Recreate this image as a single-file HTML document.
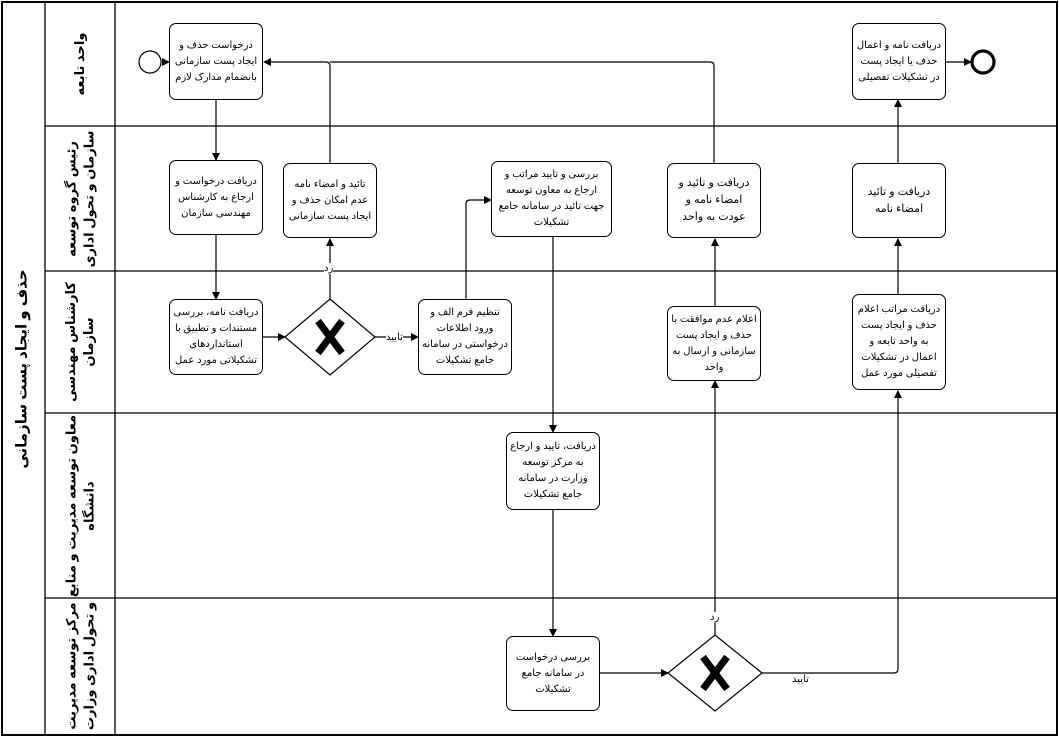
<!DOCTYPE html>
<html><head><meta charset="utf-8"><style>
body{margin:0;background:#fff;}
#c{position:relative;width:1059px;height:737px;overflow:hidden;font-family:"Liberation Sans","DejaVu Sans",sans-serif;}
.b{position:absolute;border:1.3px solid #000;border-radius:7px;background:#fff;display:flex;align-items:center;justify-content:center;text-align:center;direction:rtl;font-size:10px;line-height:16px;box-sizing:border-box;padding:2px 3px;color:#000;}
.l{position:absolute;direction:rtl;text-align:center;font-weight:bold;font-size:13px;line-height:18px;transform:rotate(-90deg);transform-origin:center;display:flex;align-items:center;justify-content:center;}
.t{position:absolute;font-size:10px;direction:rtl;background:#fff;line-height:11px;}
</style></head><body><div id="c">
<svg width="1059" height="737" style="position:absolute;left:0;top:0">
<defs><marker id="a" markerWidth="8" markerHeight="8" refX="7" refY="4" orient="auto" markerUnits="userSpaceOnUse"><path d="M0,0 L8,4 L0,8 z" fill="#000"/></marker></defs>
<g fill="none" stroke="#000">
<rect x="2" y="2" width="1055" height="733" stroke-width="2"/>
<line x1="45" y1="2" x2="45" y2="735" stroke-width="1.3"/>
<line x1="115" y1="2" x2="115" y2="735" stroke-width="1.3"/>
<line x1="45" y1="126" x2="1057" y2="126" stroke-width="1.3"/>
<line x1="45" y1="271" x2="1057" y2="271" stroke-width="1.3"/>
<line x1="45" y1="413" x2="1057" y2="413" stroke-width="1.3"/>
<line x1="45" y1="598" x2="1057" y2="598" stroke-width="1.3"/>
<circle cx="150" cy="62" r="11" stroke-width="1.2"/>
<circle cx="983" cy="62" r="11" stroke-width="3.2"/>
<path d="M330,299 L375,337 L330,375 L285,337 Z" fill="#fff" stroke-width="1.2"/>
<path d="M715,635 L762,673 L715,711 L668,673 Z" fill="#fff" stroke-width="1.2"/>
<path d="M714,163 L714,66 Q714,62 710,62 L330,62" stroke-width="1.2"/>
<g stroke-width="1.2" marker-end="url(#a)">
<path d="M162,62 L169,62"/>
<path d="M216,100 L216,160"/>
<path d="M216,234 L216,299"/>
<path d="M263,337 L285,337"/>
<path d="M375,337 L418,337"/>
<path d="M330,299 L330,239"/>
<path d="M330,163 L330,66 Q330,62 326,62 L264,62"/>
<path d="M466,299 L466,204 Q466,200 470,200 L491,200"/>
<path d="M553,236 L553,432"/>
<path d="M553,510 L553,636"/>
<path d="M600,673 L668,673"/>
<path d="M715,635 L715,381"/>
<path d="M715,306 L715,239"/>
<path d="M762,673 L894,673 Q898,673 898,669 L898,391"/>
<path d="M898,294 L898,239"/>
<path d="M898,163 L898,100"/>
<path d="M946,62 L971,62"/>
</g></g>
<g stroke="#000" stroke-width="7" stroke-linecap="butt">
<path d="M318,321 L342,353 M342,321 L318,353"/>
<path d="M703,657 L727,689 M727,657 L703,689"/>
</g>
</svg>
<div class="l" style="left:-345px;top:359px;width:735px;height:20px;font-size:15px">حذف و ایجاد پست سازمانی</div>
<div class="l" style="left:18px;top:54px;width:124px;height:20px">واحد تابعه</div>
<div class="l" style="left:8px;top:180px;width:145px;height:38px">رئیس گروه توسعه سازمان و تحول اداری</div>
<div class="l" style="left:9px;top:323px;width:142px;height:38px">کارشناس مهندسی سازمان</div>
<div class="l" style="left:-12px;top:487px;width:185px;height:38px">معاون توسعه مدیریت و منابع دانشگاه</div>
<div class="l" style="left:12px;top:647px;width:137px;height:38px">مرکز توسعه مدیریت و تحول اداری وزارت</div>
<div class="b" style="left:169px;top:23px;width:94px;height:77px">درخواست حذف و ایجاد پست سازمانی بانضمام مدارک لازم</div>
<div class="b" style="left:852px;top:23px;width:94px;height:77px">دریافت نامه و اعمال حذف یا ایجاد پست در تشکیلات تفصیلی</div>
<div class="b" style="left:169px;top:160px;width:94px;height:75px">دریافت درخواست و ارجاع به کارشناس مهندسی سازمان</div>
<div class="b" style="left:283px;top:163px;width:94px;height:75px">تائید و امضاء نامه عدم امکان حذف و ایجاد پست سازمانی</div>
<div class="b" style="left:491px;top:161px;width:121px;height:76px">بررسی و تایید مراتب و ارجاع به معاون توسعه جهت تائید در سامانه جامع تشکیلات</div>
<div class="b" style="left:667px;top:163px;width:94px;height:75px;font-size:11px;line-height:17px">دریافت و تائید و امضاء نامه و عودت به واحد</div>
<div class="b" style="left:852px;top:163px;width:94px;height:75px;font-size:11px;line-height:17px">دریافت و تائید امضاء نامه</div>
<div class="b" style="left:169px;top:299px;width:94px;height:76px">دریافت نامه، بررسی مستندات و تطبیق با استانداردهای تشکیلاتی مورد عمل</div>
<div class="b" style="left:418px;top:299px;width:94px;height:76px">تنظیم فرم الف و ورود اطلاعات درخواستی در سامانه جامع تشکیلات</div>
<div class="b" style="left:667px;top:306px;width:94px;height:75px">اعلام عدم موافقت با حذف و ایجاد پست سازمانی و ارسال به واحد</div>
<div class="b" style="left:852px;top:294px;width:94px;height:96px">دریافت مراتب اعلام حذف و ایجاد پست به واحد تابعه و اعمال در تشکیلات تفصیلی مورد عمل</div>
<div class="b" style="left:506px;top:432px;width:94px;height:78px">دریافت، تایید و ارجاع به مرکز توسعه وزارت در سامانه جامع تشکیلات</div>
<div class="b" style="left:506px;top:636px;width:94px;height:75px">بررسی درخواست در سامانه جامع تشکیلات</div>
<div class="t" style="left:386px;top:332px">تایید</div>
<div class="t" style="left:324px;top:263px">رد</div>
<div class="t" style="left:710px;top:612px">رد</div>
<div class="t" style="left:792px;top:674px">تایید</div>
</div></body></html>
